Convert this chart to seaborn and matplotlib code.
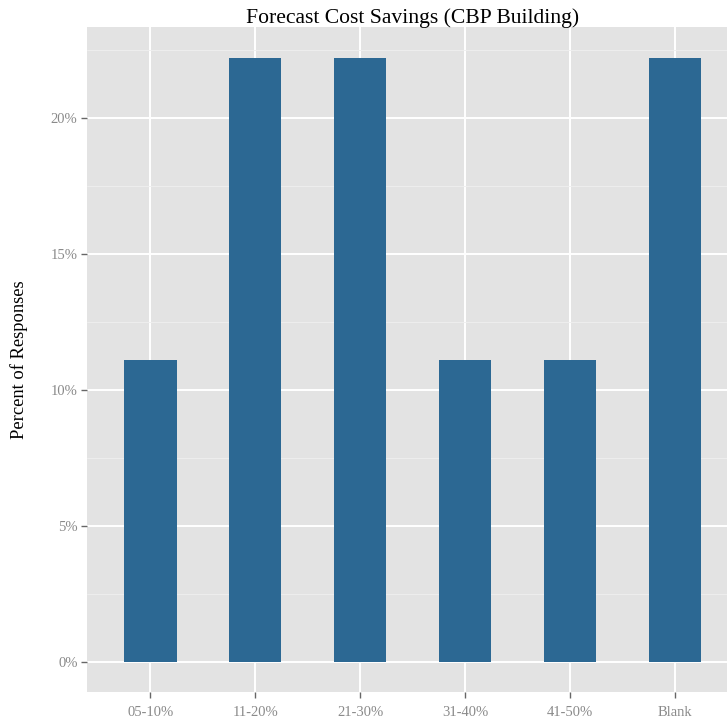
import matplotlib
matplotlib.use("Agg")
import matplotlib.pyplot as plt
import matplotlib.ticker as mtick
import seaborn as sns
import pandas as pd

# data (9 responses -> 1/9 and 2/9)
categories = ["05-10%", "11-20%", "21-30%", "31-40%", "41-50%", "Blank"]
percent = [11.11, 22.22, 22.22, 11.11, 11.11, 22.22]
y_ticks = [0, 5, 10, 15, 20]
y_minor = [2.5, 7.5, 12.5, 17.5, 22.5]

df = pd.DataFrame({"savings": categories, "pct": percent})

sns.set_theme(style="darkgrid")
plt.rcParams["font.family"] = ["Liberation Serif", "DejaVu Serif"]

fig = plt.figure(figsize=(7.27, 7.21), dpi=100)
ax = fig.add_axes([87.3 / 727, 1 - 691.7 / 721, (738 - 87.3) / 727, (691.7 - 27.3) / 721])
ax.set_facecolor("#e3e3e3")

sns.barplot(data=df, x="savings", y="pct", color="#2c6893", width=0.5,
            saturation=1, linewidth=0, edgecolor="none", ax=ax, zorder=3)

ax.set_xlim(-0.6, 5.6)
ax.set_ylim(-1.111, 23.333)
ax.set_yticks(y_ticks)
ax.set_yticks(y_minor, minor=True)
ax.yaxis.set_major_formatter(mtick.PercentFormatter(decimals=0))

ax.grid(which="major", color="white", linewidth=1.4, zorder=0)
ax.grid(which="minor", axis="y", color="#efefef", linewidth=0.6, zorder=0)
ax.set_axisbelow(True)
for s in ax.spines.values():
    s.set_visible(False)

ax.tick_params(axis="both", which="major", length=4, width=1, color="#666666",
               labelcolor="#8a8a8a", labelsize=10.5, bottom=True, left=True)
ax.tick_params(axis="x", which="major", pad=6)
ax.tick_params(axis="y", which="major", pad=3)
ax.tick_params(axis="y", which="minor", length=0)

ax.set_xlabel("")
ax.set_ylabel("Percent of Responses", fontsize=13.3, color="black")
ax.yaxis.set_label_coords(-0.091, 0.5)
ax.set_title("Forecast Cost Savings (CBP Building)", fontsize=15.6, color="black", pad=3)

fig.savefig("out.png", dpi=100)
